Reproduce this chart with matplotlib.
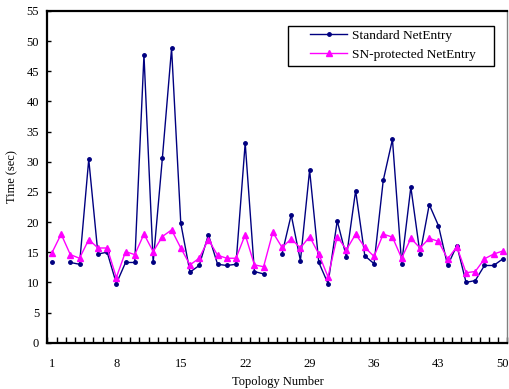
import numpy as np
import matplotlib
matplotlib.use('Agg')
import matplotlib.pyplot as plt
from matplotlib.patches import Rectangle

nan = np.nan

topology = list(range(1, 51))
standard = [13.3, nan, 13.3, 13.0, 30.4, 14.7, 15.0, 9.8, 13.3, 13.3,
            47.7, 13.3, 30.6, 48.8, 19.8, 11.7, 12.8, 17.9, 13.0, 12.8,
            13.0, 33.1, 11.8, 11.4, nan, 14.7, 21.2, 13.6, 28.6, 13.3,
            9.8, 20.2, 14.2, 25.2, 14.4, 13.1, 26.9, 33.7, 13.1, 25.8,
            14.7, 22.9, 19.4, 12.8, 16.1, 10.0, 10.3, 12.8, 12.8, 13.9]
protected = [14.9, 18.0, 14.6, 14.0, 17.1, 15.7, 15.7, 10.8, 15.1, 14.6,
             18.0, 15.1, 17.6, 18.7, 15.7, 12.9, 14.0, 17.1, 14.5, 14.0,
             14.0, 17.9, 12.9, 12.6, 18.3, 15.8, 17.2, 15.7, 17.6, 14.7,
             10.9, 17.6, 15.4, 18.0, 15.8, 14.3, 18.0, 17.5, 14.0, 17.3,
             15.7, 17.3, 16.8, 13.9, 15.9, 11.6, 11.8, 13.9, 14.7, 15.2]
x_labels = [1, 8, 15, 22, 29, 36, 43, 50]

plt.rcParams['font.family'] = 'Liberation Serif'

fig = plt.figure(figsize=(5.09, 3.89), dpi=100)
ax = fig.add_axes([0.093, 0.119, 0.904, 0.853])

ax.plot(topology, standard, color='#000080', linewidth=1, marker='o', markersize=2.5,
        label='Standard NetEntry')
ax.plot(topology, protected, color='#FF00FF', linewidth=1, marker='^', markersize=4,
        label='SN-protected NetEntry')

ax.set_xlim(0.5, 50.5)
ax.set_ylim(0, 55)
ax.set_yticks(range(0, 56, 5))
ax.set_xticks(x_labels)
ax.set_xticks(np.arange(0.5, 51, 1), minor=True)
ax.tick_params(axis='x', which='major', length=0, pad=11, labelsize=9)
ax.tick_params(axis='x', which='minor', direction='in', length=4, width=1)
ax.tick_params(axis='y', direction='in', length=3, width=1, labelsize=9, pad=6)

for side in ['left', 'bottom', 'top']:
    ax.spines[side].set_linewidth(1.6)
    ax.spines[side].set_color('black')
ax.spines['right'].set_color('#808080')
ax.spines['right'].set_linewidth(1)

ax.set_xlabel('Topology Number', fontsize=9, labelpad=4)
ax.set_ylabel('Time (sec)', fontsize=9, labelpad=6)

# legend text without frame, box drawn separately to match the reference padding
leg = ax.legend(loc='upper left', bbox_to_anchor=(0.609, 0.925), bbox_transform=fig.transFigure,
                fontsize=9.6, frameon=False, handlelength=2.8, borderpad=0, borderaxespad=0,
                labelspacing=0.5, handletextpad=0.35)
fig.patches.append(Rectangle((0.566, 0.830), 0.405, 0.1036, transform=fig.transFigure,
                             fill=False, edgecolor='black', linewidth=1, zorder=5))

fig.savefig('out.png', dpi=100)
